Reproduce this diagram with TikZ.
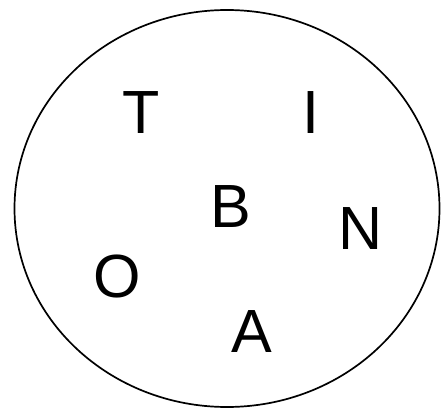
\documentclass[tikz,border=0pt]{standalone}
\usepackage{fontspec}
\setmainfont{Liberation Sans}
\usetikzlibrary{positioning}

\begin{document}
\begin{tikzpicture}[x=1pt, y=-1pt, every node/.style={inner sep=0pt, font=\fontsize{61}{61}\selectfont}]
                \useasboundingbox (0,0) rectangle (441,409);
                % Outline
                \draw[line width=1.7pt] (227,208.5) ellipse [x radius=212.5, y radius=198.5];
            
                % Letter nodes
                \node (t) at (141,113) {T};
                \node (i) at (310.5,113) {I};
                \node (b) at (230.5,206.5) {B};
                \node (n) at (361,229) {N};
                \node (o) at (117.5,276) {O};
                \node (a) at (251.5,332) {A};
            \end{tikzpicture}
\end{document}
